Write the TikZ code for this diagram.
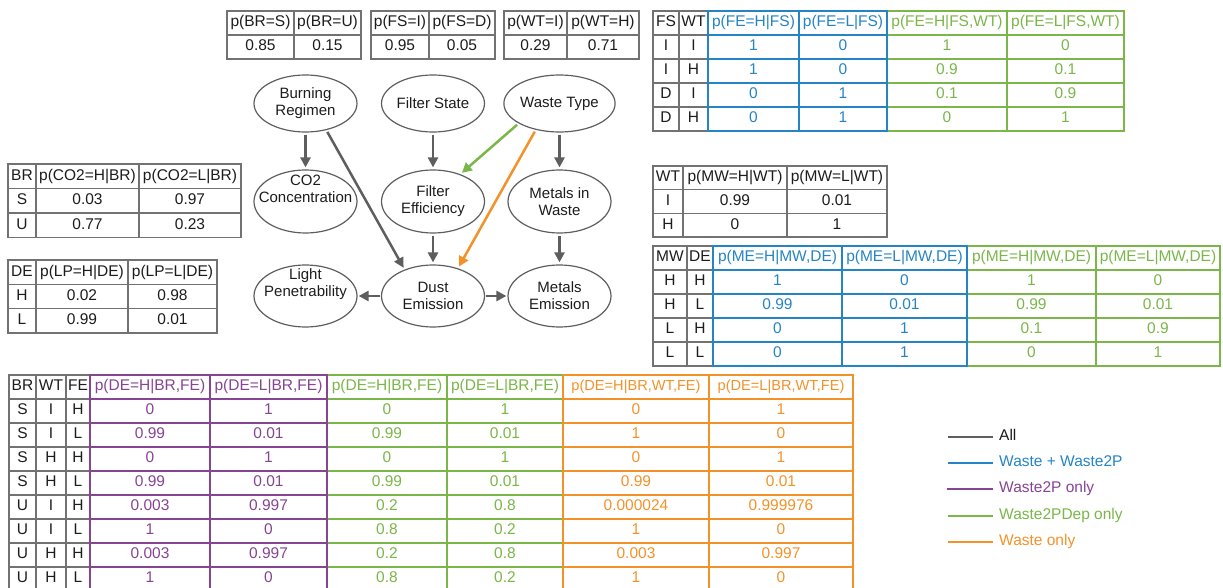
\documentclass[tikz,border=0pt]{standalone}
\usepackage{fontspec}
\setmainfont{Liberation Sans}
\usetikzlibrary{arrows.meta}
\usetikzlibrary{shapes.geometric}
\definecolor{lngry}{HTML}{5E5E5E}
\definecolor{tbgry}{HTML}{727272}
\definecolor{txblk}{HTML}{1C1C1C}
\definecolor{wblue}{HTML}{2584C6}
\definecolor{wgreen}{HTML}{7AB648}
\definecolor{worange}{HTML}{F39229}
\definecolor{wpurple}{HTML}{864493}
\tikzset{bnp/.style={
  x=1pt,
  y=-1pt,
  font=\fontsize{15.5}{17}\selectfont,
  text=txblk
}}
\tikzset{bn/.style={
  draw=lngry,
  line width=1.2pt,
  shape=ellipse,
  minimum width=103pt,
  minimum height=57pt,
  inner sep=0pt,
  align=center,
  font=\fontsize{15}{17}\selectfont,
}}
\tikzset{bnt/.style={bn,minimum height=63pt}}
\tikzset{bnb/.style={bn,minimum height=62pt}}
\tikzset{bnl/.style={align=center,inner sep=0pt,font=\fontsize{15}{17}\selectfont}}
\tikzset{arw/.style={
  draw=lngry,
  line width=2.5pt,
  -{Triangle[length=10pt,width=10pt]},
  shorten <=2pt,
  shorten >=2pt,
}}
\tikzset{tbl/.style={draw=tbgry,line width=1.5pt}}
\tikzset{cel/.style={inner sep=0pt,text height=10.7pt,text depth=3pt}}
\tikzset{lgt/.style={cel,anchor=west}}
\tikzset{leg/.style={line width=2.5pt,shorten >=6pt}}

\begin{document}
\begin{tikzpicture}[bnp]
  \useasboundingbox (0,0) rectangle (1223,588);
  % Network
  \node[bn] (br) at (305.5,103.5) {Burning\\Regimen};
  \node[bn] (fs) at (433,103.5) {Filter State};
  \node[bn] (wt) at (559.5,103.5) {Waste Type};
  \node[bnt,label={[bnl,yshift=12.5pt]center:CO2\\Concentration}] (co2) at (305.5,201.5) {};
  \node[bnt] (fe) at (433,201.5) {Filter\\Efficiency};
  \node[bnt] (mw) at (559.5,201.5) {Metals in\\Waste};
  \node[bnb,label={[bnl,yshift=12pt]center:Light\\Penetrability}] (lp) at (305.5,296) {};
  \node[bnb] (de) at (433,296) {Dust\\Emission};
  \node[bnb] (me) at (559.5,296) {Metals\\Emission};
  % Links
  \draw[arw] (br) -- (co2);
  \draw[arw] (fs) -- (fe);
  \draw[arw] (wt) -- (mw);
  \draw[arw] (fe) -- (de);
  \draw[arw] (mw) -- (me);
  \draw[arw] (br.-52) -- (de.137);
  \draw[arw,draw=wgreen] (wt.206) -- (fe.45);
  \draw[arw,draw=worange] (wt.228) -- (de.48);
  \draw[arw,shorten <=0.5pt,shorten >=1pt] (de) -- (lp);
  \draw[arw,shorten <=0.5pt,shorten >=1pt] (de) -- (me);

  % Priors
  \foreach \xa/\xb in {227/294,294/361,371/429,429/495,504/567,567/639}
    \foreach \i in {0,1}
      \draw[tbl] (\xa,11+24*\i) rectangle (\xb,35+24*\i);
  \node[cel] (prbs) at (260.5,23) {p(BR=S)};
  \node[cel] (prbu) at (327.5,23) {p(BR=U)};
  \node[cel] (prbsv) at (260.5,47) {0.85};
  \node[cel] (prbuv) at (327.5,47) {0.15};
  \node[cel] (pfsi) at (400,23) {p(FS=I)};
  \node[cel] (pfsd) at (462,23) {p(FS=D)};
  \node[cel] (pfsiv) at (400,47) {0.95};
  \node[cel] (pfsdv) at (462,47) {0.05};
  \node[cel] (pwti) at (535.5,23) {p(WT=I)};
  \node[cel] (pwth) at (603,23) {p(WT=H)};
  \node[cel] (pwtiv) at (535.5,47) {0.29};
  \node[cel] (pwthv) at (603,47) {0.71};

  % Filter efficiency
  \foreach \xa/\xb in {653/679,679/708}
    \foreach \i in {0,...,4}
      \draw[tbl] (\xa,11+24*\i) rectangle (\xb,35+24*\i);
  \foreach \xa/\xb in {887/1007,1007/1124}
    \foreach \i in {0,...,4}
      \draw[tbl,draw=wgreen] (\xa,11+24*\i) rectangle (\xb,35+24*\i);
  \foreach \xa/\xb in {708/799,799/887}
    \foreach \i in {0,...,4}
      \draw[tbl,draw=wblue] (\xa,11+24*\i) rectangle (\xb,35+24*\i);
  \node[cel] (cfe0a) at (666,23) {FS};
  \node[cel] (cfe0b) at (693.5,23) {WT};
  \node[cel,text=wblue] (cfe0c) at (753.5,23) {p(FE=H|FS)};
  \node[cel,text=wblue] (cfe0d) at (843,23) {p(FE=L|FS)};
  \node[cel,text=wgreen] (cfe0e) at (947,23) {p(FE=H|FS,WT)};
  \node[cel,text=wgreen] (cfe0f) at (1065.5,23) {p(FE=L|FS,WT)};
  \foreach \va/\vb/\vc/\vd/\ve/\vf [count=\i] in
    {I/I/1/0/1/0,I/H/1/0/0.9/0.1,D/I/0/1/0.1/0.9,D/H/0/1/0/1}{
    \node[cel] (cfe\i a) at (666,23+24*\i) {\va};
    \node[cel] (cfe\i b) at (693.5,23+24*\i) {\vb};
    \node[cel,text=wblue] (cfe\i c) at (753.5,23+24*\i) {\vc};
    \node[cel,text=wblue] (cfe\i d) at (843,23+24*\i) {\vd};
    \node[cel,text=wgreen] (cfe\i e) at (947,23+24*\i) {\ve};
    \node[cel,text=wgreen] (cfe\i f) at (1065.5,23+24*\i) {\vf};
  }

  % CO2 concentration
  \foreach \xa/\xb in {8/36,36/139,139/241}
    \foreach \i in {0,...,2}
      \draw[tbl] (\xa,164+24.5*\i) rectangle (\xb,188.5+24.5*\i);
  \node[cel] (cco0a) at (22,176.25) {BR};
  \node[cel] (cco0b) at (87.5,176.25) {p(CO2=H|BR)};
  \node[cel] (cco0c) at (190,176.25) {p(CO2=L|BR)};
  \foreach \va/\vb/\vc [count=\i] in {S/0.03/0.97,U/0.77/0.23}{
    \node[cel] (cco\i a) at (22,176.25+24.5*\i) {\va};
    \node[cel] (cco\i b) at (87.5,176.25+24.5*\i) {\vb};
    \node[cel] (cco\i c) at (190,176.25+24.5*\i) {\vc};
  }

  % Light penetrability
  \foreach \xa/\xb in {8/36,36/128,128/217}
    \foreach \i in {0,...,2}
      \draw[tbl] (\xa,260+24.33*\i) rectangle (\xb,284.33+24.33*\i);
  \node[cel] (clp0a) at (22,272.17) {DE};
  \node[cel] (clp0b) at (82,272.17) {p(LP=H|DE)};
  \node[cel] (clp0c) at (172.5,272.17) {p(LP=L|DE)};
  \foreach \va/\vb/\vc [count=\i] in {H/0.02/0.98,L/0.99/0.01}{
    \node[cel] (clp\i a) at (22,272.17+24.33*\i) {\va};
    \node[cel] (clp\i b) at (82,272.17+24.33*\i) {\vb};
    \node[cel] (clp\i c) at (172.5,272.17+24.33*\i) {\vc};
  }

  % Metals in waste
  \foreach \xa/\xb in {653/683,683/787,787/887}
    \foreach \i in {0,...,2}
      \draw[tbl] (\xa,166+23.67*\i) rectangle (\xb,189.67+23.67*\i);
  \node[cel] (cmw0a) at (668,177.83) {WT};
  \node[cel] (cmw0b) at (735,177.83) {p(MW=H|WT)};
  \node[cel] (cmw0c) at (837,177.83) {p(MW=L|WT)};
  \foreach \va/\vb/\vc [count=\i] in {I/0.99/0.01,H/0/1}{
    \node[cel] (cmw\i a) at (668,177.83+23.67*\i) {\va};
    \node[cel] (cmw\i b) at (735,177.83+23.67*\i) {\vb};
    \node[cel] (cmw\i c) at (837,177.83+23.67*\i) {\vc};
  }

  % Metals emission
  \foreach \xa/\xb in {653/687,687/713}
    \foreach \i in {0,...,4}
      \draw[tbl] (\xa,246+24*\i) rectangle (\xb,270+24*\i);
  \foreach \xa/\xb in {967/1096,1096/1220}
    \foreach \i in {0,...,4}
      \draw[tbl,draw=wgreen] (\xa,246+24*\i) rectangle (\xb,270+24*\i);
  \foreach \xa/\xb in {713/842,842/967}
    \foreach \i in {0,...,4}
      \draw[tbl,draw=wblue] (\xa,246+24*\i) rectangle (\xb,270+24*\i);
  \node[cel] (cme0a) at (670,258) {MW};
  \node[cel] (cme0b) at (700,258) {DE};
  \node[cel,text=wblue] (cme0c) at (777.5,258) {p(ME=H|MW,DE)};
  \node[cel,text=wblue] (cme0d) at (904.5,258) {p(ME=L|MW,DE)};
  \node[cel,text=wgreen] (cme0e) at (1031.5,258) {p(ME=H|MW,DE)};
  \node[cel,text=wgreen] (cme0f) at (1158,258) {p(ME=L|MW,DE)};
  \foreach \va/\vb/\vc/\vd/\ve/\vf [count=\i] in
    {H/H/1/0/1/0,H/L/0.99/0.01/0.99/0.01,L/H/0/1/0.1/0.9,L/L/0/1/0/1}{
    \node[cel] (cme\i a) at (670,258+24*\i) {\va};
    \node[cel] (cme\i b) at (700,258+24*\i) {\vb};
    \node[cel,text=wblue] (cme\i c) at (777.5,258+24*\i) {\vc};
    \node[cel,text=wblue] (cme\i d) at (904.5,258+24*\i) {\vd};
    \node[cel,text=wgreen] (cme\i e) at (1031.5,258+24*\i) {\ve};
    \node[cel,text=wgreen] (cme\i f) at (1158,258+24*\i) {\vf};
  }

  % Dust emission
  \foreach \xa/\xb in {9/36,36/66,66/90}
    \foreach \i in {0,...,8}
      \draw[tbl] (\xa,375+24*\i) rectangle (\xb,399+24*\i);
  \foreach \xa/\xb in {327/447,447/563}
    \foreach \i in {0,...,8}
      \draw[tbl,draw=wgreen] (\xa,375+24*\i) rectangle (\xb,399+24*\i);
  \foreach \xa/\xb in {90/210,210/327}
    \foreach \i in {0,...,8}
      \draw[tbl,draw=wpurple] (\xa,375+24*\i) rectangle (\xb,399+24*\i);
  \foreach \xa/\xb in {563/709,709/853}
    \foreach \i in {0,...,8}
      \draw[tbl,draw=worange] (\xa,375+24*\i) rectangle (\xb,399+24*\i);
  \node[cel] (cde0a) at (22.5,387) {BR};
  \node[cel] (cde0b) at (51,387) {WT};
  \node[cel] (cde0c) at (78,387) {FE};
  \node[cel,text=wpurple] (cde0d) at (150,387) {p(DE=H|BR,FE)};
  \node[cel,text=wpurple] (cde0e) at (268.5,387) {p(DE=L|BR,FE)};
  \node[cel,text=wgreen] (cde0f) at (387,387) {p(DE=H|BR,FE)};
  \node[cel,text=wgreen] (cde0g) at (505,387) {p(DE=L|BR,FE)};
  \node[cel,text=worange,font=\fontsize{14.6}{17}\selectfont] (cde0h) at (636,387) {p(DE=H|BR,WT,FE)};
  \node[cel,text=worange,font=\fontsize{14.6}{17}\selectfont] (cde0i) at (781,387) {p(DE=L|BR,WT,FE)};
  \foreach \va/\vb/\vc/\vd/\ve/\vf/\vg/\vh/\vi [count=\i] in
    {S/I/H/0/1/0/1/0/1,
     S/I/L/0.99/0.01/0.99/0.01/1/0,
     S/H/H/0/1/0/1/0/1,
     S/H/L/0.99/0.01/0.99/0.01/0.99/0.01,
     U/I/H/0.003/0.997/0.2/0.8/0.000024/0.999976,
     U/I/L/1/0/0.8/0.2/1/0,
     U/H/H/0.003/0.997/0.2/0.8/0.003/0.997,
     U/H/L/1/0/0.8/0.2/1/0}{
    \node[cel] (cde\i a) at (22.5,387+24*\i) {\va};
    \node[cel] (cde\i b) at (51,387+24*\i) {\vb};
    \node[cel] (cde\i c) at (78,387+24*\i) {\vc};
    \node[cel,text=wpurple] (cde\i d) at (150,387+24*\i) {\vd};
    \node[cel,text=wpurple] (cde\i e) at (268.5,387+24*\i) {\ve};
    \node[cel,text=wgreen] (cde\i f) at (387,387+24*\i) {\vf};
    \node[cel,text=wgreen] (cde\i g) at (505,387+24*\i) {\vg};
    \node[cel,text=worange] (cde\i h) at (636,387+24*\i) {\vh};
    \node[cel,text=worange] (cde\i i) at (781,387+24*\i) {\vi};
  }

  % Legend
  \coordinate (lga) at (948,437);
  \coordinate (lgb) at (948,463);
  \coordinate (lgc) at (947,489);
  \coordinate (lgd) at (948,516);
  \coordinate (lge) at (948,542);
  \node[lgt] (lg1) at (999,437) {All};
  \node[lgt,text=wblue] (lg2) at (999,463) {Waste + Waste2P};
  \node[lgt,text=wpurple] (lg3) at (999,489) {Waste2P only};
  \node[lgt,text=wgreen] (lg4) at (999,516) {Waste2PDep only};
  \node[lgt,text=worange] (lg5) at (999,542) {Waste only};
  \draw[leg,draw=lngry] (lga) -- (lg1);
  \draw[leg,draw=wblue] (lgb) -- (lg2);
  \draw[leg,draw=wpurple] (lgc) -- (lg3);
  \draw[leg,draw=wgreen] (lgd) -- (lg4);
  \draw[leg,draw=worange] (lge) -- (lg5);
\end{tikzpicture}
\end{document}
